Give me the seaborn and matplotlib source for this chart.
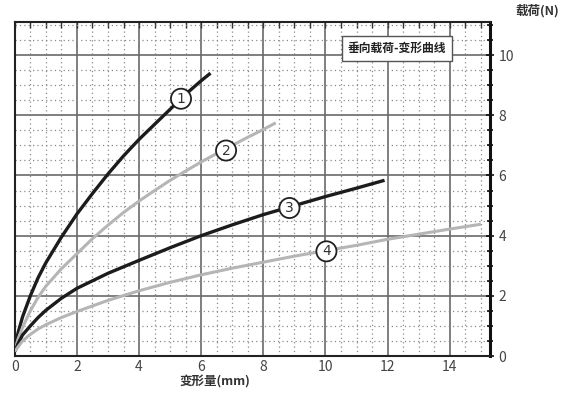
import matplotlib
matplotlib.use("Agg")
import matplotlib.pyplot as plt
import seaborn as sns
import numpy as np
import pandas as pd
from matplotlib.ticker import MultipleLocator

sns.set_style("white")
plt.rcParams['font.family'] = ['Noto Sans CJK SC', 'DejaVu Sans']

# data
x1 = [0, 0.1, 0.25, 0.5, 0.75, 1, 1.5, 2, 2.5, 3, 3.5, 4, 4.5, 5, 5.5, 6, 6.3]
y1 = [0.15, 0.75, 1.3, 2.0, 2.6, 3.1, 3.95, 4.72, 5.4, 6.05, 6.65, 7.2, 7.7, 8.2, 8.7, 9.15, 9.4]
x2 = [0, 0.1, 0.25, 0.5, 0.75, 1, 1.5, 2, 2.5, 3, 3.5, 4, 4.5, 5, 5.5, 6, 6.5, 7, 7.5, 8, 8.4]
y2 = [0.15, 0.55, 0.95, 1.5, 1.95, 2.32, 2.9, 3.4, 3.9, 4.35, 4.77, 5.15, 5.5, 5.84, 6.15,
      6.45, 6.73, 7.0, 7.27, 7.53, 7.75]
x3 = [0, 0.1, 0.25, 0.5, 0.75, 1, 1.5, 2, 3, 4, 5, 6, 7, 8, 9, 10, 11, 11.9]
y3 = [0.15, 0.4, 0.7, 1.0, 1.28, 1.52, 1.92, 2.25, 2.75, 3.18, 3.6, 4.0, 4.36, 4.7, 5.0,
      5.3, 5.58, 5.84]
x4 = [0, 0.1, 0.25, 0.5, 0.75, 1, 1.5, 2, 3, 4, 5, 6, 7, 8, 9, 10, 11, 12, 13, 14, 15]
y4 = [0.15, 0.3, 0.5, 0.72, 0.9, 1.04, 1.28, 1.48, 1.85, 2.17, 2.45, 2.7, 2.92, 3.12, 3.32,
      3.5, 3.68, 3.88, 4.05, 4.22, 4.38]
curve_labels = ["1", "2", "3", "4"]
label_pos_x = [5.35, 6.8, 8.84, 10.03]
label_pos_y = [8.55, 6.83, 4.92, 3.48]
x_ticks = [0, 2, 4, 6, 8, 10, 12, 14]
y_ticks = [0, 2, 4, 6, 8, 10]
title_text = "垂向载荷-变形曲线"
xlabel = "变形量(mm)"
ylabel = "载荷(N)"

fig = plt.figure(figsize=(5.68, 3.93), dpi=100)
ax = fig.add_axes([0.026, 0.094, 0.837, 0.85])

ax.set_xlim(0, 15.3)
ax.set_ylim(0, 11.1)
ax.xaxis.set_major_locator(MultipleLocator(2))
ax.yaxis.set_major_locator(MultipleLocator(2))
ax.xaxis.set_minor_locator(MultipleLocator(0.5))
ax.yaxis.set_minor_locator(MultipleLocator(0.5))
ax.grid(which='major', color='#6a6a6a', lw=1.2, ls='-', zorder=0)
ax.grid(which='minor', color='#8a8a8a', lw=0.9, ls=(0, (1, 2.5)), zorder=0)

colors = ['#1c1c1c', '#b5b5b5', '#1c1c1c', '#b5b5b5']
widths = [2.4, 2.2, 2.4, 2.2]
for xs, ys, c, w in zip([x1, x2, x3, x4], [y1, y2, y3, y4], colors, widths):
    df = pd.DataFrame({'x': xs, 'y': ys})
    sns.lineplot(data=df, x='x', y='y', ax=ax, color=c, lw=w, zorder=3,
                 solid_joinstyle='round', solid_capstyle='butt')

for t, lx, ly in zip(curve_labels, label_pos_x, label_pos_y):
    ax.text(lx, ly, t, ha='center', va='center', fontsize=10, color='#333333',
            family=['DejaVu Sans'], zorder=5,
            bbox=dict(boxstyle='circle,pad=0.22', fc='white', ec='#222222', lw=1.3))

ax.text(12.3, 10.23, title_text, ha='center', va='center', fontsize=8.5,
        fontweight='bold', color='#222222', zorder=5,
        bbox=dict(boxstyle='square,pad=0.5', fc='white', ec='#555555', lw=1.0))

ax.set_xticks(x_ticks)
ax.set_yticks(y_ticks)
ax.yaxis.tick_right()
ax.tick_params(axis='both', which='major', labelsize=10, labelcolor='#444444',
               length=0, pad=3)
ax.tick_params(axis='y', which='both', right=True, direction='inout', length=6,
               width=1.2, color='#111111')
ax.tick_params(axis='y', which='minor', length=4)
ax.tick_params(axis='x', which='both', bottom=False, top=True, direction='in',
               length=4, width=1, color='#333333')
ax.set_xlabel('')
ax.set_ylabel('')

for s in ['left', 'top', 'bottom']:
    ax.spines[s].set_color('#222222')
    ax.spines[s].set_linewidth(1.5)
ax.spines['right'].set_color('#111111')
ax.spines['right'].set_linewidth(2.2)

ax.text(6.45, -0.85, xlabel, ha='center', va='center', fontsize=9,
        fontweight='bold', color='#333333', clip_on=False)
ax.text(1.1, 1.035, ylabel, transform=ax.transAxes, ha='center', va='center',
        fontsize=9, fontweight='bold', color='#333333', clip_on=False)

fig.savefig('out.png', dpi=100, facecolor='white')
